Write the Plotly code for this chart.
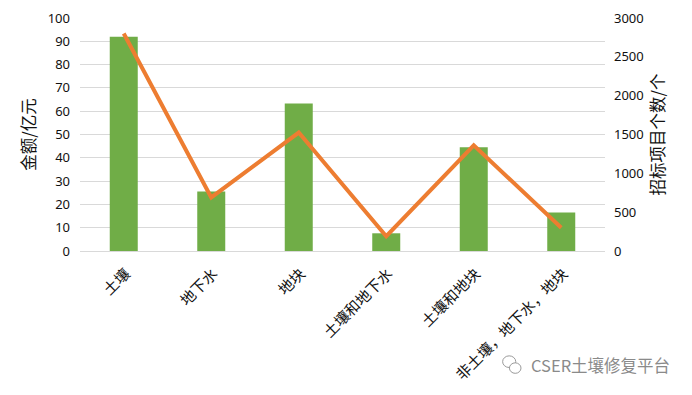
import plotly.graph_objects as go

categories = ["土壤", "地下水", "地块", "土壤和地下水", "土壤和地块", "非土壤，地下水，地块"]
amount = [92, 25.5, 63.3, 7.6, 44.5, 16.5]
projects = [2800, 690, 1525, 190, 1360, 300]

FONT = "Noto Sans CJK SC"
TICK = dict(family="Noto Sans, Noto Sans CJK SC", size=13, color="#111111")

fig = go.Figure()
fig.add_trace(go.Bar(x=categories, y=amount, marker=dict(color="#70AD47", line=dict(width=0)),
                     width=0.32, yaxis="y", showlegend=False))
fig.add_trace(go.Scatter(x=categories, y=projects, mode="lines", yaxis="y2", showlegend=False,
                         line=dict(color="#ED7D31", width=4)))

fig.update_layout(
    width=680, height=380, autosize=False,
    margin=dict(l=72, r=83, t=10, b=137, pad=0, autoexpand=False),
    paper_bgcolor="white", plot_bgcolor="white",
    xaxis=dict(tickangle=-45, tickfont=dict(family=FONT, size=15, color="#111111"), automargin=False,
               showline=False, ticks="", showgrid=False, ticklabelshift=2, ticklabelstandoff=10),
    yaxis=dict(range=[0, 100], dtick=10, gridcolor="#d9d9d9", gridwidth=1, zeroline=True, automargin=False,
               zerolinecolor="#d9d9d9", zerolinewidth=1, showline=False, tickfont=TICK, ticklabelstandoff=9,
               title=dict(text="金额/亿元", font=dict(family=FONT, size=16.5, color="#111111"), standoff=7)),
    yaxis2=dict(range=[0, 3000], dtick=500, overlaying="y", side="right", showgrid=False, automargin=False,
                zeroline=False, showline=False, tickfont=TICK, ticklabelstandoff=8,
                title=dict(text="招标项目个数/个", font=dict(family=FONT, size=16.5, color="#111111"), standoff=9)),
    annotations=[dict(text="CSER土壤修复平台", xref="paper", yref="paper", x=1.128, y=-0.489,
                      xanchor="right", yanchor="middle", showarrow=False,
                      font=dict(family=FONT, size=16.5, color="#8a8a8a"))],
    shapes=[
        dict(type="circle", xref="paper", yref="paper", x0=0.805, x1=0.83, y0=-0.50, y1=-0.45,
             line=dict(color="#9a9a9a", width=1)),
        dict(type="circle", xref="paper", yref="paper", x0=0.818, x1=0.84, y0=-0.525, y1=-0.48,
             line=dict(color="#9a9a9a", width=1), fillcolor="white"),
    ],
)
fig.write_html("out.html")
